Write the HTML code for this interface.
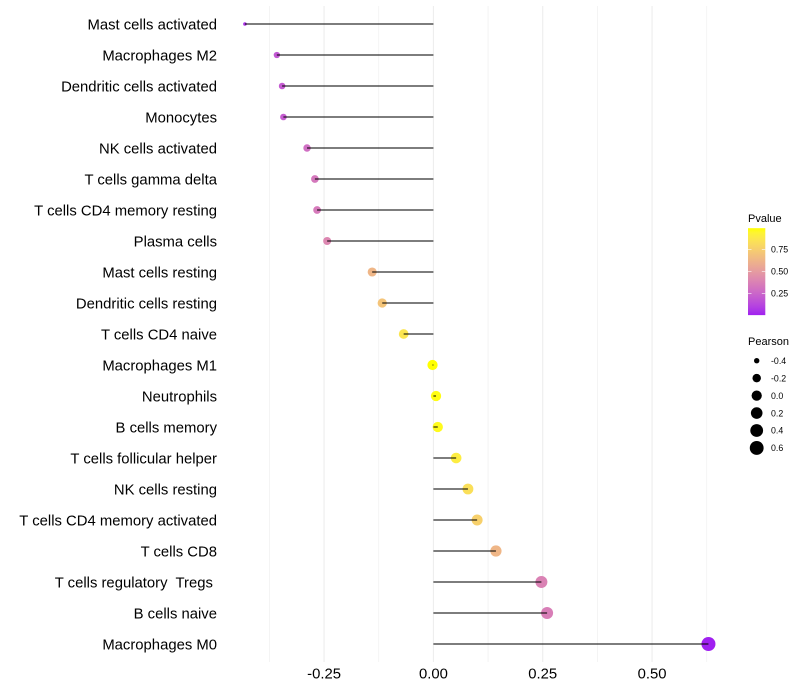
<!DOCTYPE html>
<html>
<head>
<meta charset="utf-8">
<title>Lollipop chart</title>
<style>
html,body{margin:0;padding:0;background:#fff;width:800px;height:700px;overflow:hidden}
svg{display:block;font-family:"Liberation Sans",sans-serif}
text{white-space:pre}
</style>
</head>
<body>
<svg id="chart" xmlns="http://www.w3.org/2000/svg" width="800" height="700" viewBox="0 0 800 700"></svg>
<script>
const categories = ["Mast cells activated","Macrophages M2","Dendritic cells activated","Monocytes","NK cells activated","T cells gamma delta","T cells CD4 memory resting","Plasma cells","Mast cells resting","Dendritic cells resting","T cells CD4 naive","Macrophages M1","Neutrophils","B cells memory","T cells follicular helper","NK cells resting","T cells CD4 memory activated","T cells CD8","T cells regulatory  Tregs ","B cells naive","Macrophages M0"];
const pearson = [-0.431,-0.358,-0.346,-0.343,-0.289,-0.271,-0.266,-0.243,-0.140,-0.117,-0.068,-0.002,0.006,0.010,0.052,0.079,0.100,0.143,0.247,0.260,0.629];
const pvalue = [0.06,0.19,0.20,0.21,0.29,0.33,0.34,0.40,0.63,0.70,0.86,0.99,0.98,0.97,0.90,0.83,0.76,0.63,0.38,0.36,0.002];
const xMajorTicks = [-0.25,0,0.25,0.5];
const xTickLabels = ["-0.25","0.00","0.25","0.50"];
const xMinorTicks = [-0.375,-0.125,0.125,0.375,0.625];
const colorTicks = [0.25,0.5,0.75];
const colorTickLabels = ["0.25","0.50","0.75"];
const sizeBreaks = [-0.4,-0.2,0,0.2,0.4,0.6];
const sizeLabels = ["-0.4","-0.2","0.0","0.2","0.4","0.6"];

const svg = document.getElementById('chart');
const NS = 'http://www.w3.org/2000/svg';
function mk(tag, attrs, parent){
  const el = document.createElementNS(NS, tag);
  for (const k in attrs) el.setAttribute(k, attrs[k]);
  (parent || svg).appendChild(el);
  return el;
}
const xScale = v => 433.4 + 437.3 * v;
const yScale = i => 24 + 31 * i;
const sizeMin = Math.min(...pearson), sizeMax = Math.max(...pearson);
const rScale = v => 1.8 + 5.2 * Math.sqrt(Math.max(0, (v - sizeMin) / (sizeMax - sizeMin)));
const colorY = p => 315.3 - 88 * p;

/* Lab colour interpolation purple -> yellow */
function toLab(c){
  const l = c.map(u => { u/=255; return u>0.04045?Math.pow((u+0.055)/1.055,2.4):u/12.92; });
  const X=(0.4124*l[0]+0.3576*l[1]+0.1805*l[2])/0.95047, Y=0.2126*l[0]+0.7152*l[1]+0.0722*l[2], Z=(0.0193*l[0]+0.1192*l[1]+0.9505*l[2])/1.08883;
  const f=t=>t>0.008856?Math.cbrt(t):7.787*t+16/116;
  return [116*f(Y)-16,500*(f(X)-f(Y)),200*(f(Y)-f(Z))];
}
function fromLab(L){
  const fy=(L[0]+16)/116, fx=fy+L[1]/500, fz=fy-L[2]/200;
  const g=t=>t*t*t>0.008856?t*t*t:(t-16/116)/7.787;
  const X=g(fx)*0.95047,Y=g(fy),Z=g(fz)*1.08883;
  const r=[3.2406*X-1.5372*Y-0.4986*Z,-0.9689*X+1.8758*Y+0.0415*Z,0.0557*X-0.2040*Y+1.0570*Z];
  return 'rgb('+r.map(u=>{u=Math.max(0,Math.min(1,u));u=u>0.0031308?1.055*Math.pow(u,1/2.4)-0.055:12.92*u;return Math.round(u*255);}).join(',')+')';
}
const labLow = toLab([160,32,240]), labHigh = toLab([255,255,0]);
const pMin = 0.002, pMax = 0.99;
function colorScale(p){
  const t = Math.max(0, Math.min(1, (p - pMin) / (pMax - pMin)));
  return fromLab(labLow.map((a,i)=>a+(labHigh[i]-a)*t));
}

/* gridlines */
const panelTop = 6, panelBottom = 662;
xMinorTicks.forEach(t => {
  const g = mk('line',{x1:xScale(t),x2:xScale(t),y1:panelTop,y2:panelBottom,stroke:'#f0f0f0','stroke-width':0.7});
  
  
});
xMajorTicks.forEach(t => {
  const g = mk('line',{x1:xScale(t),x2:xScale(t),y1:panelTop,y2:panelBottom,stroke:'#ececec','stroke-width':1});
  
  
});

/* y labels */
categories.forEach((c,i) => {
  const t = mk('text',{x:217,y:yScale(i)+5.6,'text-anchor':'end','font-size':14.85,fill:'#000'});
  t.textContent = c;
  
  
});

/* x labels */
xMajorTicks.forEach((v,i) => {
  const t = mk('text',{x:xScale(v),y:678.5,'text-anchor':'middle','font-size':14.85,fill:'#000'});
  t.textContent = xTickLabels[i];
  
  
});

/* points then stems */
pearson.forEach((v,i) => {
  const c = mk('circle',{cx:xScale(v),cy:yScale(i),r:rScale(v),fill:colorScale(pvalue[i])});
  
  
});
pearson.forEach((v,i) => {
  const l = mk('line',{x1:xScale(0),x2:xScale(v),y1:yScale(i),y2:yScale(i),stroke:'#000','stroke-opacity':0.68,'stroke-width':1.45});
  
  
});

/* colour legend */
const legendTitle1 = mk('text',{x:748,y:222,'font-size':11,fill:'#000'});
legendTitle1.textContent = 'Pvalue';



const defs = mk('defs',{});
const grad = mk('linearGradient',{id:'pgrad',x1:0,y1:1,x2:0,y2:0},defs);
for (let k = 0; k <= 20; k++) {
  const p = pMin + (pMax - pMin) * k / 20;
  mk('stop',{offset:(k*5)+'%','stop-color':colorScale(p)},grad);
}
const bar = mk('rect',{x:748,y:colorY(pMax),width:17.3,height:colorY(pMin)-colorY(pMax),fill:'url(#pgrad)'});


colorTicks.forEach((p,i) => {
  [[748,751.5],[761.8,765.3]].forEach(seg => {
    const tk = mk('line',{x1:seg[0],x2:seg[1],y1:colorY(p),y2:colorY(p),stroke:'#fff','stroke-width':0.6});
    
    
  });
  const t = mk('text',{x:771,y:colorY(p)+3.2,'font-size':8.8,fill:'#000'});
  t.textContent = colorTickLabels[i];
  
  
});

/* size legend */
const legendTitle2 = mk('text',{x:748,y:345,'font-size':11,fill:'#000'});
legendTitle2.textContent = 'Pearson';


sizeBreaks.forEach((v,i) => {
  const y = 360.7 + 17.45 * i;
  const c = mk('circle',{cx:756.7,cy:y,r:rScale(v),fill:'#000'});
  
  
  const t = mk('text',{x:771,y:y+3.2,'font-size':8.8,fill:'#000'});
  t.textContent = sizeLabels[i];
  
  
});
</script>
</body>
</html>
